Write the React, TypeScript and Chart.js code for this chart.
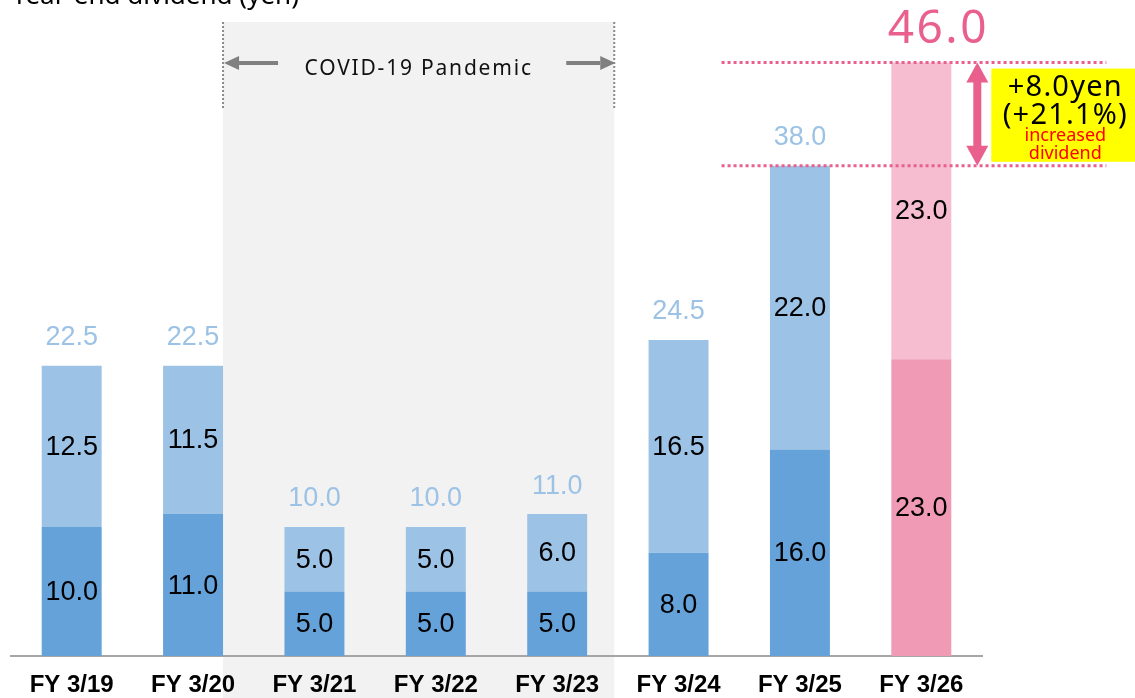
import React, { useEffect, useRef } from "react";
import { Chart, registerables } from "chart.js";

Chart.register(...registerables);

const titleText = "Year-end dividend (yen)";
const categories = ["FY 3/19", "FY 3/20", "FY 3/21", "FY 3/22", "FY 3/23", "FY 3/24", "FY 3/25", "FY 3/26"];
const interimValues = [10.0, 11.0, 5.0, 5.0, 5.0, 8.0, 16.0, 23.0];
const yearEndValues = [12.5, 11.5, 5.0, 5.0, 6.0, 16.5, 22.0, 23.0];
const totalValues = [22.5, 22.5, 10.0, 10.0, 11.0, 24.5, 38.0, 46.0];
const covidRange = [1, 4];
const covidLabel = "COVID-19 Pandemic";
const forecastIndex = 7;
const previousIndex = 6;
const increaseLines = ["+8.0yen", "(+21.1%)"];
const increaseNote = ["increased", "dividend"];

const BLUE_DARK = "#65a2d9";
const BLUE_LIGHT = "#9cc2e5";
const PINK_DARK = "#f09ab5";
const PINK_LIGHT = "#f5bdcf";
const PINK_TEXT = "#e9608c";

function drawArrowH(ctx: CanvasRenderingContext2D, x1: number, x2: number, y: number, color: string) {
  const dir = Math.sign(x2 - x1);
  const head = 15;
  ctx.save();
  ctx.strokeStyle = color;
  ctx.fillStyle = color;
  ctx.lineWidth = 4;
  ctx.beginPath();
  ctx.moveTo(x1, y);
  ctx.lineTo(x2 - dir * head, y);
  ctx.stroke();
  ctx.beginPath();
  ctx.moveTo(x2, y);
  ctx.lineTo(x2 - dir * head, y - 7);
  ctx.lineTo(x2 - dir * head, y + 7);
  ctx.closePath();
  ctx.fill();
  ctx.restore();
}

const overlayPlugin = {
  id: "overlay",
  beforeDraw(chart: any) {
    const { ctx, chartArea, scales } = chart;
    const xs = scales.x;
    const meta = chart.getDatasetMeta(0);
    const bw = meta.data[covidRange[0]].width;
    const step = xs.getPixelForValue(1) - xs.getPixelForValue(0);
    const left = xs.getPixelForValue(covidRange[0]) + bw / 2;
    const right = xs.getPixelForValue(covidRange[1]) + step * 0.47;
    const top = chartArea.top + 11;
    ctx.save();
    ctx.fillStyle = "#f2f2f2";
    ctx.fillRect(left, top, right - left, chart.height - top);
    ctx.strokeStyle = "#8a8a8a";
    ctx.lineWidth = 2;
    ctx.setLineDash([2, 2]);
    [left, right].forEach((px) => {
      ctx.beginPath();
      ctx.moveTo(px, top);
      ctx.lineTo(px, top + 87);
      ctx.stroke();
    });
    ctx.setLineDash([]);
    const ay = chartArea.top + 52;
    drawArrowH(ctx, left + 55, left + 1, ay, "#808080");
    drawArrowH(ctx, right - 48, right + 1, ay, "#808080");
    ctx.fillStyle = "#111";
    ctx.font = "21px 'Noto Sans'";
    (ctx as any).letterSpacing = "1.8px";
    ctx.textAlign = "center";
    ctx.textBaseline = "middle";
    ctx.fillText(covidLabel, (left + right) / 2, ay + 6);
    (ctx as any).letterSpacing = "0px";
    ctx.restore();
  },
  afterDatasetsDraw(chart: any) {
    const { ctx, scales } = chart;
    const xs = scales.x;
    const ys = scales.y;
    ctx.save();
    ctx.fillStyle = "#000";
    ctx.font = "27px 'Liberation Sans', Arial, sans-serif";
    ctx.textAlign = "center";
    ctx.textBaseline = "middle";
    [0, 1].forEach((di) => {
      const meta = chart.getDatasetMeta(di);
      const vals = di === 0 ? interimValues : yearEndValues;
      meta.data.forEach((el: any, i: number) => {
        ctx.fillText(vals[i].toFixed(1), el.x, (el.y + el.base) / 2 + 1);
      });
    });
    const topMeta = chart.getDatasetMeta(1);
    topMeta.data.forEach((el: any, i: number) => {
      if (i === forecastIndex) return;
      ctx.fillStyle = BLUE_LIGHT;
      ctx.font = "27px 'Liberation Sans', Arial, sans-serif";
      ctx.fillText(totalValues[i].toFixed(1), el.x, el.y - 28);
    });
    const fx = xs.getPixelForValue(forecastIndex);
    const yTop = ys.getPixelForValue(totalValues[forecastIndex]);
    const yPrev = ys.getPixelForValue(totalValues[previousIndex]);
    ctx.fillStyle = PINK_TEXT;
    ctx.font = "46px 'Noto Sans'";
    (ctx as any).letterSpacing = "2.5px";
    ctx.fillText(totalValues[forecastIndex].toFixed(1), fx + 17, yTop - 33);
    (ctx as any).letterSpacing = "0px";

    const lx1 = xs.getPixelForValue(previousIndex - 1) + 43;
    const lx2 = fx + 185;
    ctx.strokeStyle = PINK_TEXT;
    ctx.lineWidth = 3;
    ctx.setLineDash([3, 3]);
    [yTop, yPrev].forEach((py) => {
      ctx.beginPath();
      ctx.moveTo(lx1, py);
      ctx.lineTo(lx2, py);
      ctx.stroke();
    });
    ctx.setLineDash([]);

    const ax = fx + 56;
    const head = 20;
    ctx.fillStyle = PINK_TEXT;
    ctx.fillRect(ax - 4, yTop + head - 1, 8, yPrev - yTop - 2 * head + 2);
    ctx.beginPath();
    ctx.moveTo(ax, yTop);
    ctx.lineTo(ax - 11, yTop + head);
    ctx.lineTo(ax + 11, yTop + head);
    ctx.closePath();
    ctx.fill();
    ctx.beginPath();
    ctx.moveTo(ax, yPrev);
    ctx.lineTo(ax - 11, yPrev - head);
    ctx.lineTo(ax + 11, yPrev - head);
    ctx.closePath();
    ctx.fill();

    const bx = fx + 70;
    const by = yTop + 6;
    const bh = yPrev - 4 - by;
    ctx.fillStyle = "#ffff00";
    ctx.fillRect(bx, by, chart.width - bx, bh);
    const cx = bx + 74;
    ctx.fillStyle = "#000";
    ctx.font = "29px 'Noto Sans'";
    (ctx as any).letterSpacing = "1.2px";
    ctx.fillText(increaseLines[0], cx, by + 19);
    ctx.fillText(increaseLines[1], cx, by + 47);
    (ctx as any).letterSpacing = "0px";
    ctx.fillStyle = "#ff0000";
    ctx.font = "18px 'Noto Sans'";
    ctx.fillText(increaseNote[0], cx, by + 67);
    ctx.fillText(increaseNote[1], cx, by + 85);

    ctx.fillStyle = "#000";
    ctx.font = "26px 'Noto Sans'";
    ctx.textAlign = "left";
    ctx.textBaseline = "alphabetic";
    ctx.fillText(titleText, 12, 4);
    ctx.restore();
  },
};

export default function App() {
  const ref = useRef<HTMLCanvasElement | null>(null);
  useEffect(() => {
    if (!ref.current) return;
    const chart = new Chart(ref.current, {
      type: "bar",
      data: {
        labels: categories,
        datasets: [
          {
            label: "Interim",
            data: interimValues,
            backgroundColor: interimValues.map((_, i) => (i === forecastIndex ? PINK_DARK : BLUE_DARK)),
            borderWidth: 0,
            barPercentage: 1,
            categoryPercentage: 0.494,
          },
          {
            label: "Year-end",
            data: yearEndValues,
            backgroundColor: yearEndValues.map((_, i) => (i === forecastIndex ? PINK_LIGHT : BLUE_LIGHT)),
            borderWidth: 0,
            barPercentage: 1,
            categoryPercentage: 0.494,
          },
        ],
      },
      options: {
        responsive: false,
        animation: false,
        layout: { padding: { top: 11, left: 11, right: 153, bottom: 0 } },
        plugins: { legend: { display: false }, tooltip: { enabled: false }, title: { display: false } },
        scales: {
          x: {
            stacked: true,
            grid: { display: false, drawTicks: false },
            border: { display: true, color: "#a6a6a6", width: 2 },
            ticks: {
              color: "#000",
              padding: 15,
              font: { family: "'Liberation Sans', Arial, sans-serif", size: 24, weight: "bold" },
              maxRotation: 0,
              autoSkip: false,
            },
            afterFit: (scale: any) => {
              scale.height = 42;
            },
          },
          y: { stacked: true, display: false, min: 0, max: 50 },
        },
      },
      plugins: [overlayPlugin],
    } as any);
    return () => chart.destroy();
  }, []);
  return (
    <canvas
      ref={ref}
      width={1135}
      height={698}
      style={{ position: "absolute", left: 0, top: 0, width: 1135, height: 698 }}
    />
  );
}
